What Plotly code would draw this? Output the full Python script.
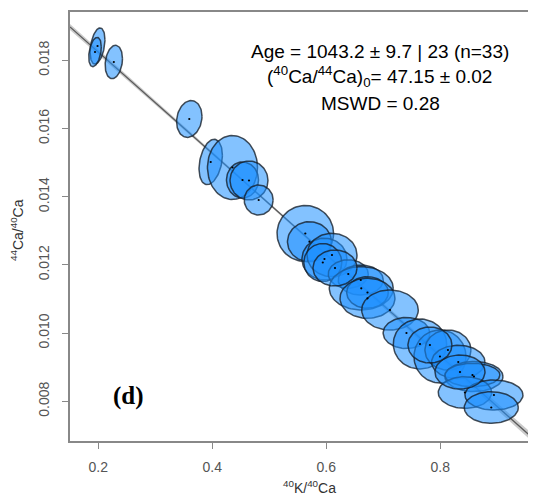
import numpy as np
import plotly.graph_objects as go

# ---- data ----
x_ratio = [0.1986, 0.1942, 0.2272, 0.3596, 0.3972, 0.4354, 0.4530, 0.4644, 0.4814,
           0.5632, 0.5705, 0.5968, 0.6100, 0.5939, 0.6386, 0.6605, 0.6614, 0.6723,
           0.6723, 0.7118, 0.7407, 0.7644, 0.7995, 0.8135, 0.8316, 0.8591, 0.8565,
           0.8433, 0.8942, 0.8895, 0.6153, 0.8346, 0.7819]
y_ratio = [0.018419, 0.018243, 0.017950, 0.016279, 0.015018, 0.014856, 0.014490, 0.014475, 0.013903,
           0.012921, 0.012680, 0.012173, 0.012290, 0.012070, 0.011733, 0.011557, 0.011314, 0.011191,
           0.011021, 0.010677, 0.010003, 0.009680, 0.009314, 0.009504, 0.009153, 0.008727, 0.008771,
           0.008258, 0.008185, 0.007818, 0.011909, 0.008859, 0.009651]
x_err = [0.0130, 0.0110, 0.0152, 0.0223, 0.0205, 0.0439, 0.0281, 0.0333, 0.0254,
         0.0496, 0.0386, 0.0395, 0.0439, 0.0333, 0.0351, 0.0395, 0.0561, 0.0365,
         0.0482, 0.0496, 0.0409, 0.0468, 0.0456, 0.0404, 0.0468, 0.0509, 0.0482,
         0.0468, 0.0509, 0.0474, 0.0386, 0.0439, 0.0386]
y_err = [0.000530, 0.000430, 0.000490, 0.000540, 0.000665, 0.000938, 0.000528, 0.000572, 0.000440,
         0.000821, 0.000587, 0.000610, 0.000636, 0.000557, 0.000416, 0.000440, 0.000636, 0.000463,
         0.000587, 0.000587, 0.000455, 0.000733, 0.000777, 0.000587, 0.000490, 0.000440, 0.000343,
         0.000463, 0.000440, 0.000463, 0.000528, 0.000499, 0.000528]
rho = [0.35, 0.35, 0.2, 0.15, 0.3, 0.0, 0.0, 0.0, 0.0,
       0.0, 0.0, 0.0, 0.0, 0.0, 0.0, 0.0, 0.0, 0.0,
       0.0, 0.0, 0.0, 0.0, 0.0, 0.0, 0.0, 0.0, 0.0,
       0.0, 0.0, 0.0, 0.0, 0.0, 0.0]

intercept = 0.021209   # 1 / 47.15
slope = -0.014848
band_w0 = 0.00003
band_ws = 0.00024
band_xm = 0.5

x_range = [0.1503, 0.968]
y_range = [0.006836, 0.019416]
x_ticks = [0.2, 0.4, 0.6, 0.8]
x_tick_text = ["0.2", "0.4", "0.6", "0.8"]
y_ticks = [0.008, 0.010, 0.012, 0.014, 0.016, 0.018]
y_tick_text = ["0.008", "0.010", "0.012", "0.014", "0.016", "0.018"]

fig = go.Figure()

# confidence band + isochron line
lx = np.linspace(x_range[0], x_range[1], 200)
ly = intercept + slope * lx
hw = np.sqrt(band_w0 ** 2 + (band_ws * (lx - band_xm)) ** 2)
fig.add_trace(go.Scatter(x=np.concatenate([lx, lx[::-1]]),
                         y=np.concatenate([ly + hw, (ly - hw)[::-1]]),
                         fill="toself", fillcolor="rgba(160,160,160,0.55)",
                         line=dict(width=0), mode="lines", hoverinfo="skip"))
fig.add_trace(go.Scatter(x=lx, y=ly, mode="lines",
                         line=dict(color="#5a5a5a", width=1.3), hoverinfo="skip"))

# error ellipses
t = np.linspace(0, 2 * np.pi, 90)
for xc, yc, sx, sy, r in zip(x_ratio, y_ratio, x_err, y_err, rho):
    ex = xc + sx * np.cos(t)
    ey = yc + sy * (r * np.cos(t) + np.sqrt(1 - r * r) * np.sin(t))
    fig.add_trace(go.Scatter(x=ex, y=ey, mode="lines", fill="toself",
                             fillcolor="rgba(30,144,255,0.55)",
                             line=dict(color="rgba(20,30,40,0.78)", width=1.5),
                             hoverinfo="skip"))

# centre dots
fig.add_trace(go.Scatter(x=x_ratio, y=y_ratio, mode="markers",
                         marker=dict(color="black", size=2.2), hoverinfo="skip"))

# plot area: x 70..536, y 12..441 in window pixels (page has 8px body margin)
PL, PR, PT, PB = 70, 536, 12, 441
def px(x):
    return (x - PL) / (PR - PL)
def py(y):
    return (PB - y) / (PB - PT)

txt_font = dict(family="Liberation Sans, Arial, sans-serif", size=19, color="black")
for label, xc, yc in [("Age = 1043.2 ± 9.7 | 23 (n=33)", 380, 51),
                      ("(<sup>40</sup>Ca/<sup>44</sup>Ca)<sub>0</sub>= 47.15 ± 0.02", 379, 77),
                      ("MSWD = 0.28", 380, 104)]:
    fig.add_annotation(x=px(xc), y=py(yc), xref="paper", yref="paper", text=label,
                       showarrow=False, xanchor="center", yanchor="middle", font=txt_font)

fig.add_annotation(x=px(128), y=py(396), xref="paper", yref="paper",
                   text="<b>(d)</b>", showarrow=False, xanchor="center", yanchor="middle",
                   font=dict(family="Liberation Serif, Times New Roman, serif", size=25, color="black"))

# axis titles
fig.add_annotation(x=px(309), y=py(487), xref="paper", yref="paper",
                   text="<sup>40</sup>K/<sup>40</sup>Ca", showarrow=False,
                   xanchor="center", yanchor="middle",
                   font=dict(family="Liberation Sans, Arial, sans-serif", size=14, color="#333"))
fig.add_annotation(x=px(17), y=py(230), xref="paper", yref="paper",
                   text="<sup>44</sup>Ca/<sup>40</sup>Ca", showarrow=False, textangle=-90,
                   xanchor="center", yanchor="middle",
                   font=dict(family="Liberation Sans, Arial, sans-serif", size=14, color="#333"))

tick_font = dict(family="Liberation Sans, Arial, sans-serif", size=14, color="#555")
fig.update_layout(
    width=528, height=492,
    margin=dict(l=PL - 8, r=0, t=PT - 8, b=492 - (PB - 8)),
    paper_bgcolor="white", plot_bgcolor="white",
    showlegend=False,
    xaxis=dict(range=x_range, tickvals=x_ticks, ticktext=x_tick_text,
               showgrid=False, zeroline=False, showline=True, linecolor="#888",
               linewidth=1.5, mirror=True, ticks="outside", ticklen=6,
               tickcolor="#888", tickfont=tick_font, ticklabelstandoff=6,
               automargin=False),
    yaxis=dict(range=y_range, tickvals=y_ticks, ticktext=y_tick_text,
               showgrid=False, zeroline=False, showline=True, linecolor="#888",
               linewidth=1.5, ticks="outside", ticklen=6, tickcolor="#888",
               tickfont=tick_font, tickangle=-90, ticklabelstandoff=8,
               automargin=False),
)

fig.write_html("out.html")
